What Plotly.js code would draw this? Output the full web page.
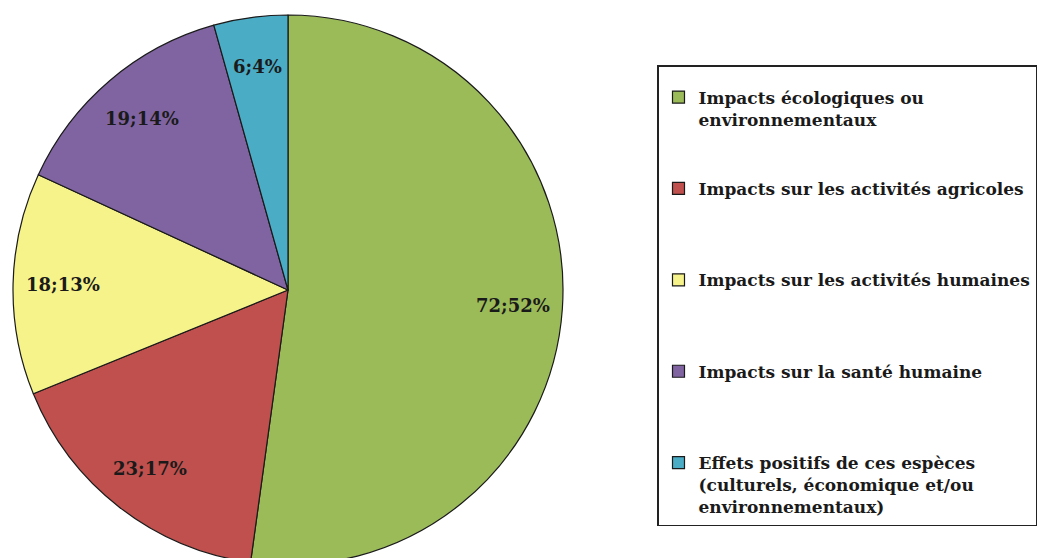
<!DOCTYPE html>
<html>
<head>
<meta charset="utf-8">
<script src="https://cdn.plot.ly/plotly-3.0.1.min.js"></script>
<style>
html,body{margin:0;padding:0;overflow:hidden;background:#fff;}
#chart{width:1042px;height:580px;}
</style>
</head>
<body>
<div id="chart"></div>
<script>
const categories = [
  "Impacts écologiques ou<br>environnementaux<br>\u00a0<br>\u00a0",
  "Impacts sur les activités agricoles<br>\u00a0<br>\u00a0<br>\u00a0",
  "Impacts sur les activités humaines<br>\u00a0<br>\u00a0<br>\u00a0",
  "Impacts sur la santé humaine<br>\u00a0<br>\u00a0<br>\u00a0",
  "Effets positifs de ces espèces<br>(culturels, économique et/ou<br>environnementaux)"
];
const counts = [72, 23, 18, 19, 6];
const sliceColors = ["#9BBB59", "#C0504D", "#F5F38A", "#8064A2", "#4BACC6"];

const serif = "DejaVu Serif, Liberation Serif, serif";

const W = 1042, H = 580;
const margin = { l: 0, r: 0, t: 15, b: 15 };
const pieDomain = { x: [13/1042, 563/1042], y: [0, 1] };

// Data labels "value;percent" placed at each slice's mid-angle (Excel style)
const total = counts.reduce((a, b) => a + b, 0);
const plotW = W - margin.l - margin.r, plotH = H - margin.t - margin.b;
const domWpx = (pieDomain.x[1] - pieDomain.x[0]) * plotW;
const domHpx = (pieDomain.y[1] - pieDomain.y[0]) * plotH;
const Rpx = Math.min(domWpx, domHpx) / 2;
const cxP = (pieDomain.x[0] + pieDomain.x[1]) / 2;
const cyP = (pieDomain.y[0] + pieDomain.y[1]) / 2;
const labelRadius = 0.82;
let cum = 0;
const annotations = counts.map((v) => {
  const frac = (cum + v / 2) / total;
  cum += v;
  const th = 2 * Math.PI * frac;
  return {
    xref: "paper", yref: "paper",
    x: cxP + labelRadius * Rpx * Math.sin(th) / plotW,
    y: cyP + labelRadius * Rpx * Math.cos(th) / plotH,
    xanchor: "center", yanchor: "middle",
    showarrow: false,
    text: v + ";" + Math.round(100 * v / total) + "%",
    font: { family: serif, size: 18, color: "#1a1a1a", weight: "bold" }
  };
});

const trace = {
  type: "pie",
  labels: categories,
  values: counts,
  sort: false,
  direction: "clockwise",
  rotation: 0,
  marker: { colors: sliceColors, line: { color: "#1a1a1a", width: 1.2 } },
  textinfo: "none",
  hoverinfo: "none",
  domain: pieDomain
};

const layout = {
  width: W,
  height: H,
  margin: margin,
  paper_bgcolor: "#ffffff",
  showlegend: true,
  annotations: annotations,
  legend: {
    x: 657/1042, xanchor: "left",
    y: (565 - 65) / 550, yanchor: "top",
    bordercolor: "#222", borderwidth: 1.5,
    bgcolor: "#ffffff",
    valign: "top",
    title: { text: "\u00a0", font: { size: 10 } },
    font: { family: serif, size: 17, color: "#1a1a1a", weight: "bold" }
  }
};

Plotly.newPlot("chart", [trace], layout, { displayModeBar: false, staticPlot: true });
</script>
</body>
</html>
